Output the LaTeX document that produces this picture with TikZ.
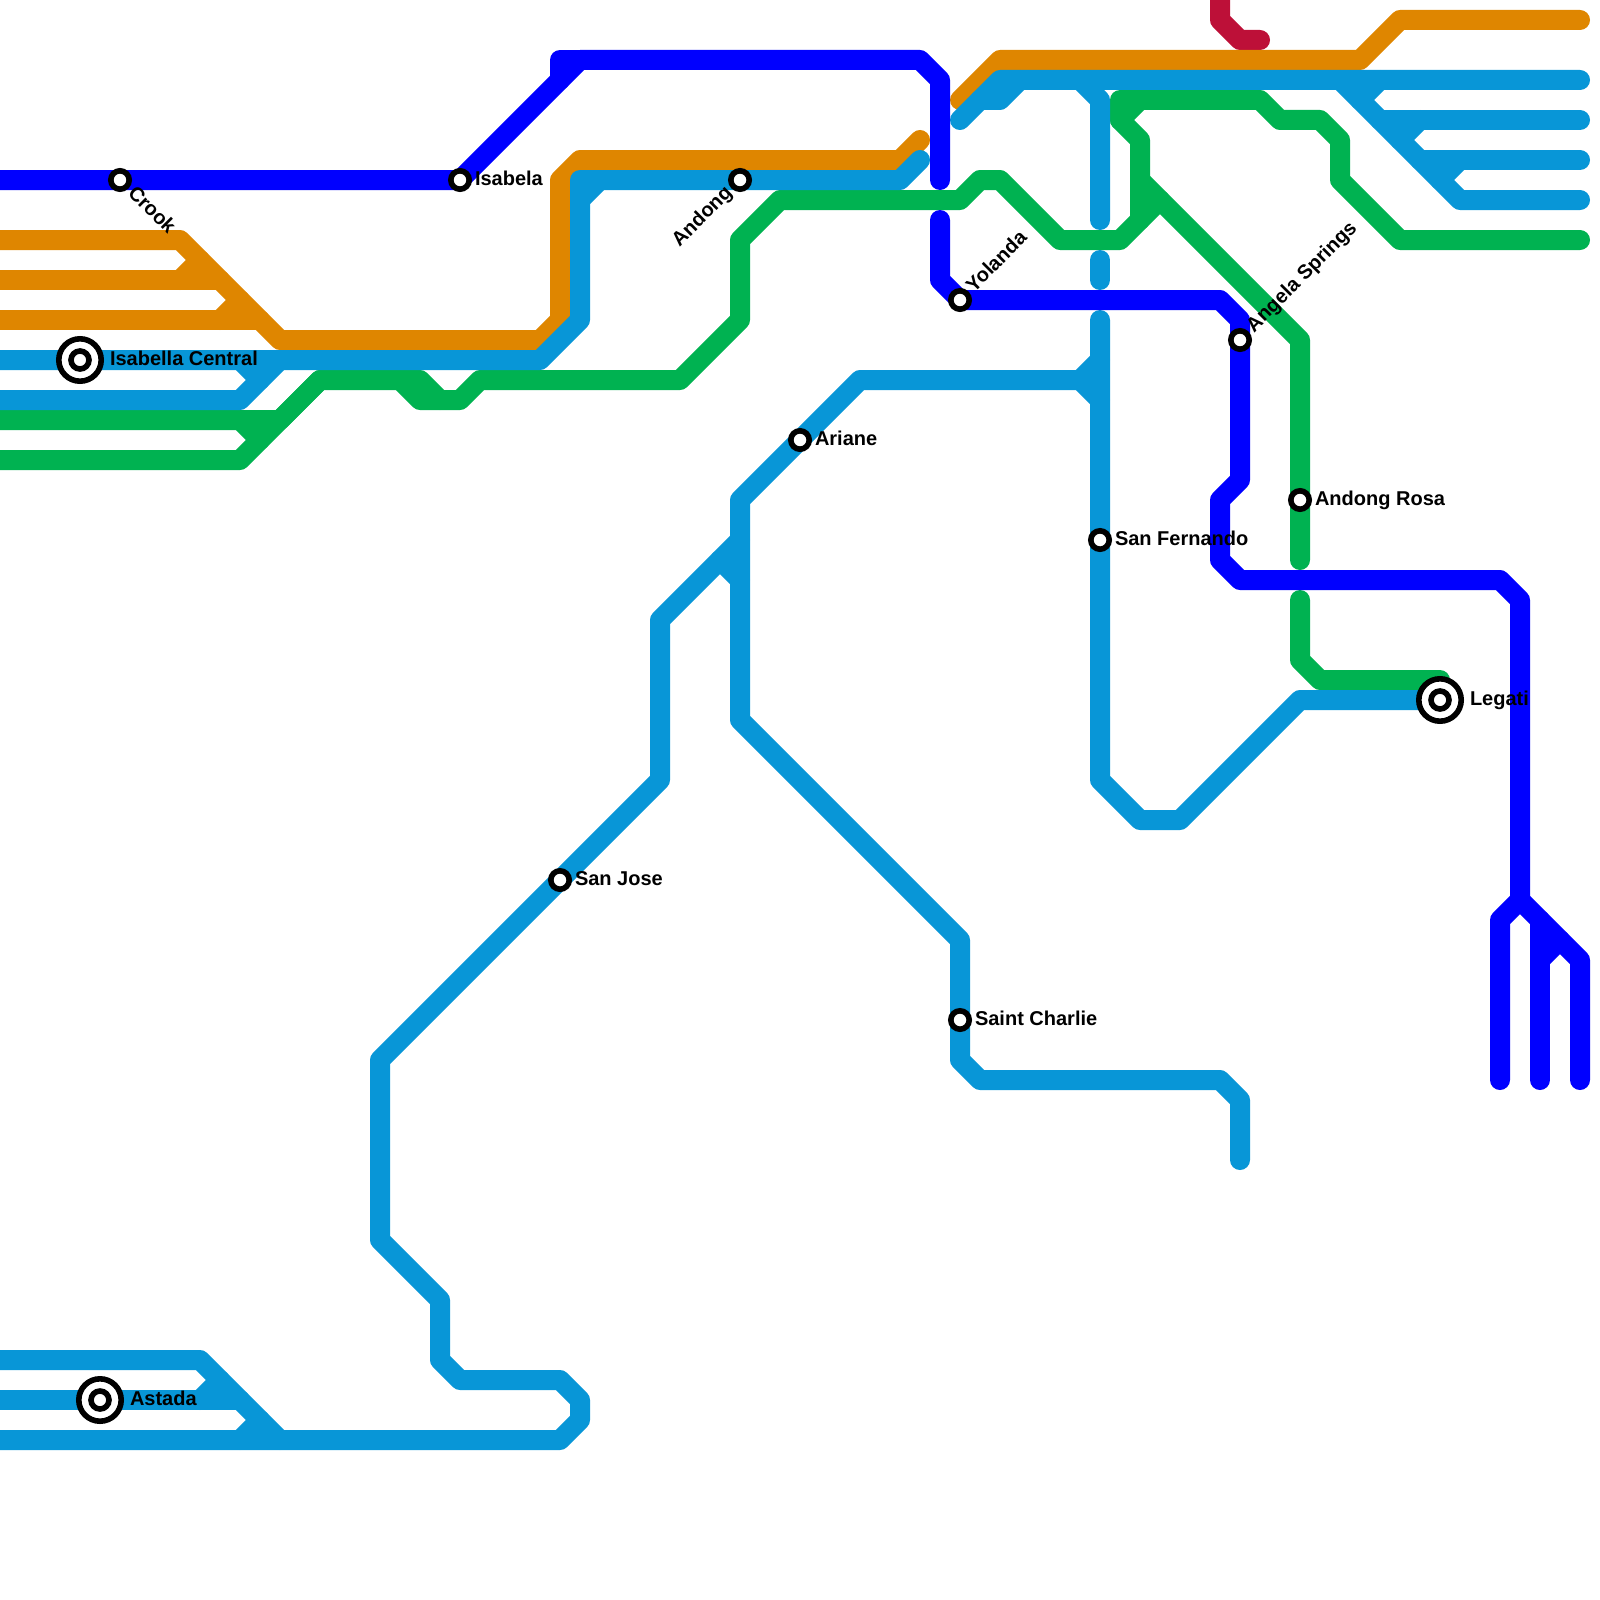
\documentclass[tikz,border=0pt]{standalone}
\usepackage{fontspec}
\setmainfont{Liberation Sans}
\definecolor{cOrange}{HTML}{DF8600}
\definecolor{cSky}{HTML}{0896D7}
\definecolor{cGreen}{HTML}{00B251}
\definecolor{cBlue}{HTML}{0000FF}
\definecolor{cRed}{HTML}{BD1038}
\tikzset{
  track/.style={line width=20pt,line cap=round,line join=round},
  orangeline/.style={track,draw=cOrange},
  skyline/.style={track,draw=cSky},
  greenline/.style={track,draw=cGreen},
  blueline/.style={track,draw=cBlue},
  redline/.style={track,draw=cRed},
  stop/.style={circle,draw=black,fill=white,line width=5.6pt,minimum size=18.4pt,inner sep=0pt,outer sep=0pt},
  hubouter/.style={circle,draw=black,fill=white,line width=5.6pt,minimum size=42.4pt,inner sep=0pt,outer sep=0pt},
  hubinner/.style={circle,draw=black,fill=white,line width=5.6pt,minimum size=18pt,inner sep=0pt,outer sep=0pt},
  lab/.style={text=black,inner sep=0pt,outer sep=0pt,font=\fontsize{20pt}{24pt}\selectfont\bfseries},
}
\begin{document}
\begin{tikzpicture}[x=1pt,y=-1pt]
\useasboundingbox (0,0) rectangle (1600,1600);
\clip (0,0) rectangle (1600,1600);
% station positions
\coordinate (pCrook) at (120,180);
\coordinate (pIsabela) at (460,180);
\coordinate (pAndong) at (740,180);
\coordinate (pCentral) at (80,360);
\coordinate (pAriane) at (800,440);
\coordinate (pYolanda) at (960,300);
\coordinate (pAngela) at (1240,340);
\coordinate (pFernando) at (1100,540);
\coordinate (pRosa) at (1300,500);
\coordinate (pLegati) at (1440,700);
\coordinate (pJose) at (560,880);
\coordinate (pCharlie) at (960,1020);
\coordinate (pAstada) at (100,1400);
% red
\draw[redline] (1220,-20) -- (1220,20) -- (1240,40) -- (1260,40);
% orange
\draw[orangeline] (-20,240) -- (180,240) -- (280,340) -- (540,340) -- (560,320) -- (560,180) -- (580,160) -- (900,160) -- (920,140);
\draw[orangeline] (-20,280) -- (220,280);
\draw[orangeline] (180,280) -- (200,260);
\draw[orangeline] (-20,320) -- (260,320);
\draw[orangeline] (220,320) -- (240,300);
\draw[orangeline] (960,100) -- (1000,60) -- (1360,60) -- (1400,20) -- (1580,20);
% green
\draw[greenline] (-20,420) -- (280,420) -- (320,380);
\draw[greenline] (240,420) -- (260,440);
\draw[greenline] (-20,460) -- (240,460) -- (320,380) -- (420,380) -- (440,400) -- (460,400) -- (480,380) -- (680,380) -- (740,320) -- (740,240) -- (780,200) -- (960,200) -- (980,180) -- (1000,180) -- (1060,240) -- (1120,240) -- (1160,200);
\draw[greenline] (400,380) -- (420,400) -- (440,400);
\draw[greenline] (1140,220) -- (1140,140) -- (1120,120) -- (1120,100) -- (1260,100) -- (1280,120) -- (1320,120) -- (1340,140) -- (1340,180) -- (1400,240) -- (1580,240);
\draw[greenline] (1120,120) -- (1140,100);
\draw[greenline] (1140,180) -- (1300,340) -- (pRosa) -- (1300,560);
\draw[greenline] (1300,600) -- (1300,660) -- (1320,680) -- (1440,680);
% sky blue
\draw[skyline] (-20,360) -- (540,360) -- (580,320) -- (580,180) -- (900,180) -- (920,160);
\draw[skyline] (580,200) -- (600,180);
\draw[skyline] (-20,400) -- (240,400) -- (280,360);
\draw[skyline] (240,360) -- (260,380);
\draw[skyline] (960,120) -- (1000,80) -- (1580,80);
\draw[skyline] (980,100) -- (1000,100) -- (1020,80);
\draw[skyline] (1080,80) -- (1100,100) -- (1100,220);
\draw[skyline] (1100,260) -- (1100,280);
\draw[skyline] (1100,320) -- (pFernando) -- (1100,780) -- (1140,820) -- (1180,820) -- (1300,700) -- (pLegati);
\draw[skyline] (1100,360) -- (1080,380) -- (1100,400);
\draw[skyline] (1080,380) -- (860,380) -- (740,500) -- (740,720) -- (960,940) -- (pCharlie) -- (960,1060) -- (980,1080) -- (1220,1080) -- (1240,1100) -- (1240,1160);
\draw[skyline] (740,540) -- (660,620) -- (660,780) -- (380,1060) -- (380,1240) -- (440,1300) -- (440,1360) -- (460,1380) -- (560,1380) -- (580,1400) -- (580,1420) -- (560,1440) -- (-20,1440);
\draw[skyline] (720,560) -- (740,580);
\draw[skyline] (-20,1360) -- (200,1360) -- (280,1440);
\draw[skyline] (-20,1400) -- (240,1400);
\draw[skyline] (200,1400) -- (220,1380);
\draw[skyline] (240,1440) -- (260,1420);
\draw[skyline] (1340,80) -- (1460,200) -- (1580,200);
\draw[skyline] (1380,120) -- (1580,120);
\draw[skyline] (1360,100) -- (1380,80);
\draw[skyline] (1420,160) -- (1580,160);
\draw[skyline] (1400,140) -- (1420,120);
\draw[skyline] (1440,180) -- (1460,160);
% dark blue
\draw[blueline] (-20,180) -- (pIsabela) -- (580,60) -- (920,60) -- (940,80) -- (940,180);
\draw[blueline] (560,80) -- (560,60) -- (580,60);
\draw[blueline] (940,220) -- (940,280) -- (pYolanda) -- (1220,300) -- (1240,320) -- (1240,480) -- (1220,500) -- (1220,560) -- (1240,580) -- (1500,580) -- (1520,600) -- (1520,900);
\draw[blueline] (1500,1080) -- (1500,920) -- (1520,900) -- (1580,960) -- (1580,1080);
\draw[blueline] (1540,920) -- (1540,1080);
\draw[blueline] (1540,960) -- (1560,940);
% stations
\node[stop] (sCrook) at (pCrook) {};
\node[stop] (sIsabela) at (pIsabela) {};
\node[stop] (sAndong) at (pAndong) {};
\node[stop] (sAriane) at (pAriane) {};
\node[stop] (sYolanda) at (pYolanda) {};
\node[stop] (sAngela) at (pAngela) {};
\node[stop] (sFernando) at (pFernando) {};
\node[stop] (sRosa) at (pRosa) {};
\node[stop] (sJose) at (pJose) {};
\node[stop] (sCharlie) at (pCharlie) {};
\node[hubouter] (sCentral) at (pCentral) {};
\node[hubinner] (sCentralIn) at (pCentral) {};
\node[hubouter] (sLegati) at (pLegati) {};
\node[hubinner] (sLegatiIn) at (pLegati) {};
\node[hubouter] (sAstada) at (pAstada) {};
\node[hubinner] (sAstadaIn) at (pAstada) {};
% labels
\node[lab,anchor=base west] (tIsabela) at (475,185) {Isabela};
\node[lab,anchor=base west] (tAriane) at (815,445) {Ariane};
\node[lab,anchor=base west] (tFernando) at (1115,545) {San Fernando};
\node[lab,anchor=base west] (tRosa) at (1315,505) {Andong Rosa};
\node[lab,anchor=base west] (tJose) at (575,885) {San Jose};
\node[lab,anchor=base west] (tCharlie) at (975,1025) {Saint Charlie};
\node[lab,anchor=base west] (tCentral) at (110,365) {Isabella Central};
\node[lab,anchor=base west] (tLegati) at (1470,705) {Legati};
\node[lab,anchor=base west] (tAstada) at (130,1405) {Astada};
\node[lab,anchor=base west,rotate=-45] (tCrook) at (127,194) {Crook};
\node[lab,anchor=base west,rotate=45] (tYolanda) at (974,293) {Yolanda};
\node[lab,anchor=base west,rotate=45] (tAngela) at (1254,333) {Angela Springs};
\node[lab,anchor=base east,rotate=45] (tAndong) at (733,194) {Andong};
\end{tikzpicture}
\end{document}
